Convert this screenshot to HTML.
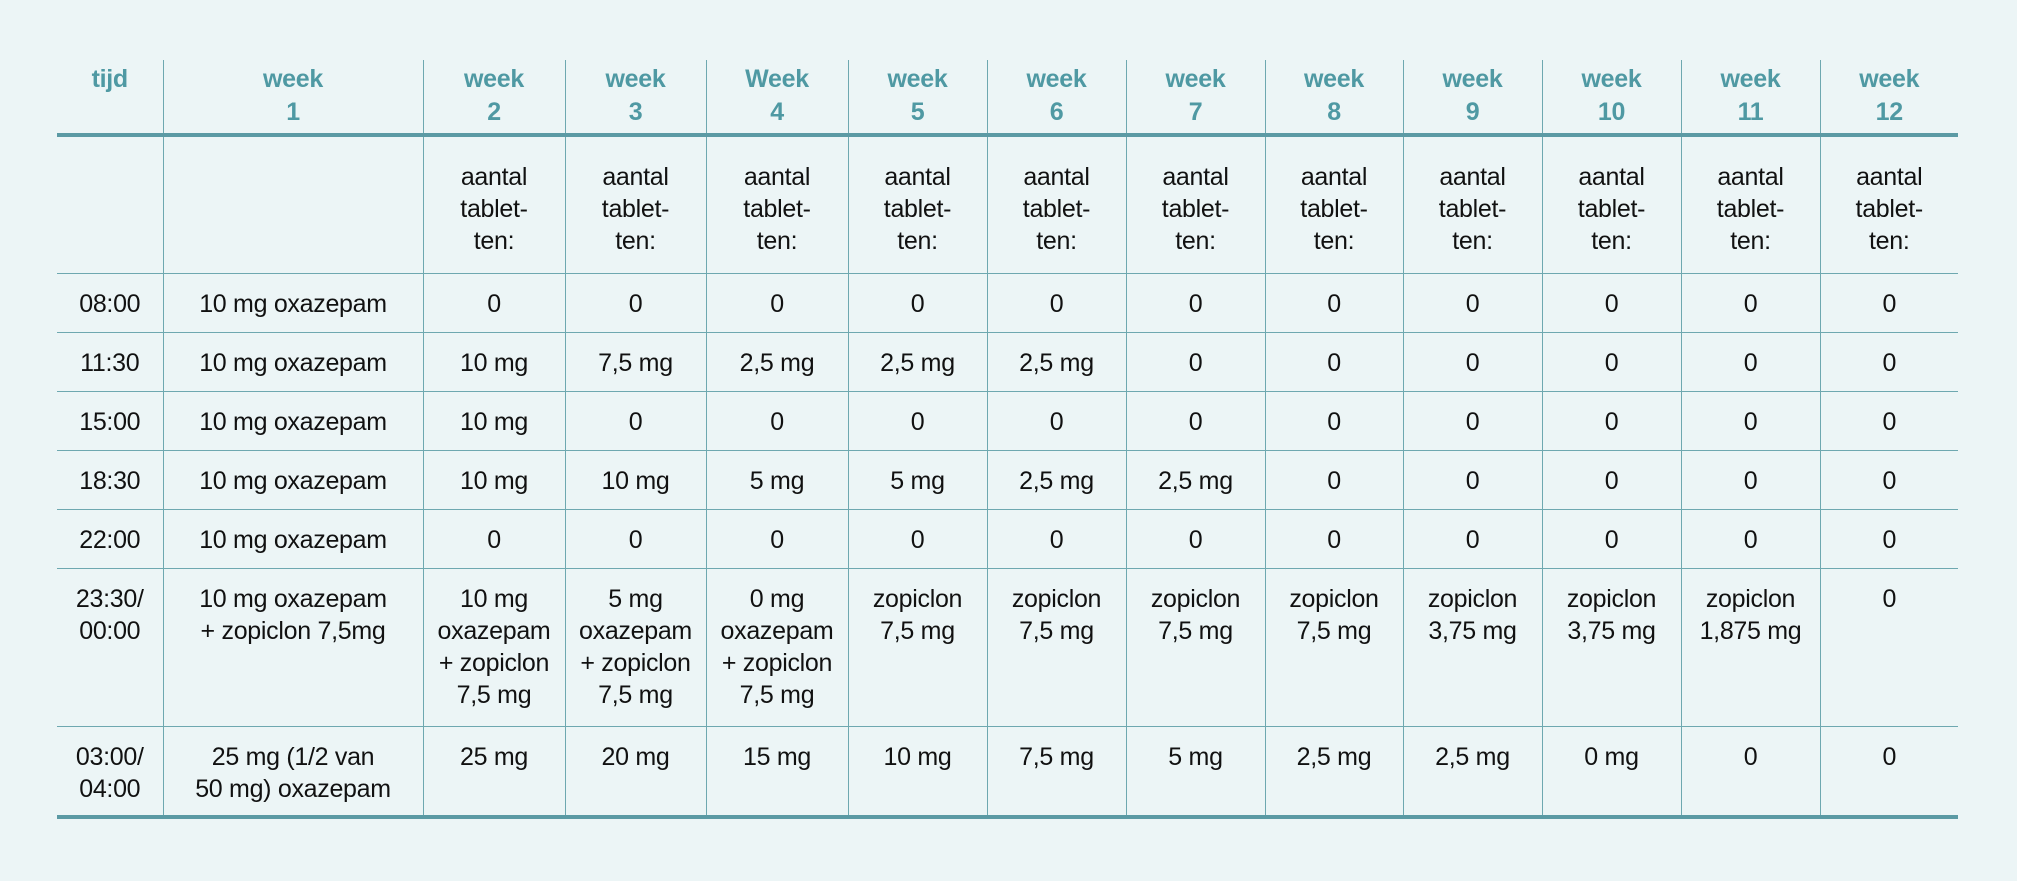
<!DOCTYPE html>
<html><head><meta charset="utf-8">
<style>
html,body{margin:0;padding:0;width:2017px;height:881px;background:#ecf5f6;overflow:hidden}
table{position:absolute;left:57px;top:60px;border-collapse:collapse;table-layout:fixed;font-family:"Liberation Sans",sans-serif;font-size:25px;color:#111;letter-spacing:-0.3px}
td,th{padding:0;text-align:center;vertical-align:top;line-height:32px;border-left:1.5px solid #6ea8b0;border-top:1.5px solid #6ea8b0;overflow:visible;white-space:nowrap}
tr td:first-child,tr th:first-child{border-left:none}
th{color:#4f99a3;font-weight:bold;line-height:33px;padding-top:3px;border-top:none;border-bottom:4px solid #5b9aa4}
tr.last td{border-bottom:4px solid #5b9aa4}
.s td{padding-top:14px}
</style></head><body>
<table>
<colgroup><col style="width:106px"><col style="width:260px"><col style="width:142px"><col style="width:141px"><col style="width:142px"><col style="width:139px"><col style="width:139px"><col style="width:139px"><col style="width:138px"><col style="width:139px"><col style="width:139px"><col style="width:139px"><col style="width:138px"></colgroup>
<tr style="height:75px">
<th>tijd</th>
<th>week<br>1</th>
<th>week<br>2</th>
<th>week<br>3</th>
<th>Week<br>4</th>
<th>week<br>5</th>
<th>week<br>6</th>
<th>week<br>7</th>
<th>week<br>8</th>
<th>week<br>9</th>
<th>week<br>10</th>
<th>week<br>11</th>
<th>week<br>12</th>
</tr>
<tr style="height:138px">
<td style="border-top:none"></td><td style="border-top:none"></td>
<td style="padding-top:24px;border-top:none">aantal<br>tablet-<br>ten:</td>
<td style="padding-top:24px;border-top:none">aantal<br>tablet-<br>ten:</td>
<td style="padding-top:24px;border-top:none">aantal<br>tablet-<br>ten:</td>
<td style="padding-top:24px;border-top:none">aantal<br>tablet-<br>ten:</td>
<td style="padding-top:24px;border-top:none">aantal<br>tablet-<br>ten:</td>
<td style="padding-top:24px;border-top:none">aantal<br>tablet-<br>ten:</td>
<td style="padding-top:24px;border-top:none">aantal<br>tablet-<br>ten:</td>
<td style="padding-top:24px;border-top:none">aantal<br>tablet-<br>ten:</td>
<td style="padding-top:24px;border-top:none">aantal<br>tablet-<br>ten:</td>
<td style="padding-top:24px;border-top:none">aantal<br>tablet-<br>ten:</td>
<td style="padding-top:24px;border-top:none">aantal<br>tablet-<br>ten:</td>
</tr>
<tr class="s" style="height:59px"><td>08:00</td><td>10 mg oxazepam</td><td>0</td><td>0</td><td>0</td><td>0</td><td>0</td><td>0</td><td>0</td><td>0</td><td>0</td><td>0</td><td>0</td></tr>
<tr class="s" style="height:59px"><td>11:30</td><td>10 mg oxazepam</td><td>10 mg</td><td>7,5 mg</td><td>2,5 mg</td><td>2,5 mg</td><td>2,5 mg</td><td>0</td><td>0</td><td>0</td><td>0</td><td>0</td><td>0</td></tr>
<tr class="s" style="height:59px"><td>15:00</td><td>10 mg oxazepam</td><td>10 mg</td><td>0</td><td>0</td><td>0</td><td>0</td><td>0</td><td>0</td><td>0</td><td>0</td><td>0</td><td>0</td></tr>
<tr class="s" style="height:59px"><td>18:30</td><td>10 mg oxazepam</td><td>10 mg</td><td>10 mg</td><td>5 mg</td><td>5 mg</td><td>2,5 mg</td><td>2,5 mg</td><td>0</td><td>0</td><td>0</td><td>0</td><td>0</td></tr>
<tr class="s" style="height:59px"><td>22:00</td><td>10 mg oxazepam</td><td>0</td><td>0</td><td>0</td><td>0</td><td>0</td><td>0</td><td>0</td><td>0</td><td>0</td><td>0</td><td>0</td></tr>
<tr style="height:158px">
<td style="padding-top:14px">23:30/<br>00:00</td>
<td style="padding-top:14px">10 mg oxazepam<br>+ zopiclon 7,5mg</td>
<td style="padding-top:14px">10 mg<br>oxazepam<br>+ zopiclon<br>7,5 mg</td>
<td style="padding-top:14px">5 mg<br>oxazepam<br>+ zopiclon<br>7,5 mg</td>
<td style="padding-top:14px">0 mg<br>oxazepam<br>+ zopiclon<br>7,5 mg</td>
<td style="padding-top:14px">zopiclon<br>7,5 mg</td>
<td style="padding-top:14px">zopiclon<br>7,5 mg</td>
<td style="padding-top:14px">zopiclon<br>7,5 mg</td>
<td style="padding-top:14px">zopiclon<br>7,5 mg</td>
<td style="padding-top:14px">zopiclon<br>3,75 mg</td>
<td style="padding-top:14px">zopiclon<br>3,75 mg</td>
<td style="padding-top:14px">zopiclon<br>1,875 mg</td>
<td style="padding-top:14px">0</td>
</tr>
<tr class="last" style="height:91px">
<td style="padding-top:14px">03:00/<br>04:00</td>
<td style="padding-top:14px">25 mg (1/2 van<br>50 mg) oxazepam</td>
<td style="padding-top:14px">25 mg</td>
<td style="padding-top:14px">20 mg</td>
<td style="padding-top:14px">15 mg</td>
<td style="padding-top:14px">10 mg</td>
<td style="padding-top:14px">7,5 mg</td>
<td style="padding-top:14px">5 mg</td>
<td style="padding-top:14px">2,5 mg</td>
<td style="padding-top:14px">2,5 mg</td>
<td style="padding-top:14px">0 mg</td>
<td style="padding-top:14px">0</td>
<td style="padding-top:14px">0</td>
</tr>
</table>
</body></html>
